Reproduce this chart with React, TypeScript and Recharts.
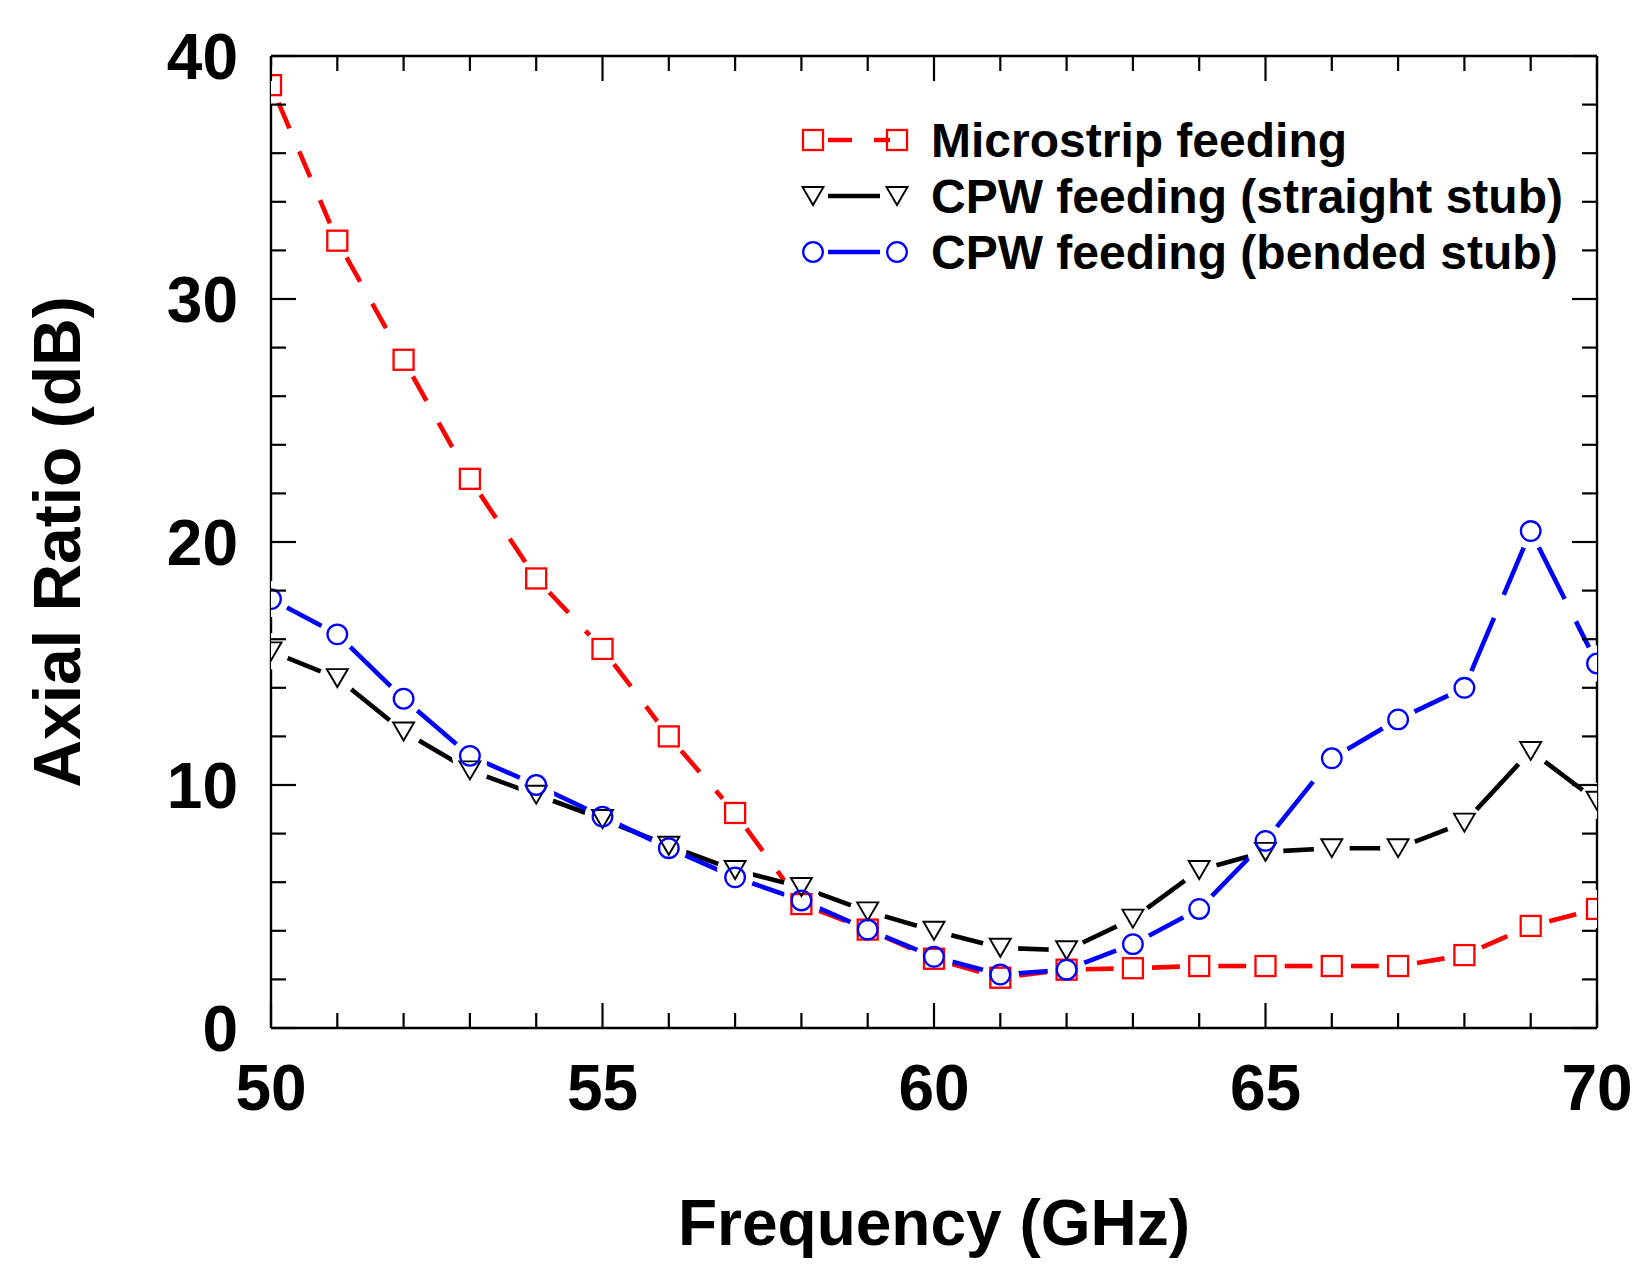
import React from 'react';
import { ComposedChart, Line, XAxis, YAxis, Legend } from 'recharts';

const frequency = [50, 51, 52, 53, 54, 55, 56, 57, 58, 59, 60, 61, 62, 63, 64, 65, 66, 67, 68, 69, 70];
const microstrip = [38.8, 32.4, 27.5, 22.6, 18.5, 15.6, 12.0, 8.85, 5.1, 4.05, 2.85, 2.07, 2.4, 2.46, 2.55, 2.55, 2.55, 2.55, 3.0, 4.2, 4.9];
const cpwStraight = [15.5, 14.4, 12.2, 10.6, 9.6, 8.6, 7.5, 6.5, 5.8, 4.8, 4.0, 3.3, 3.2, 4.5, 6.5, 7.25, 7.4, 7.4, 8.45, 11.4, 9.35];
const cpwBended = [17.65, 16.2, 13.55, 11.2, 10.0, 8.7, 7.4, 6.2, 5.25, 4.05, 2.93, 2.2, 2.4, 3.45, 4.9, 7.7, 11.1, 12.7, 14.0, 20.45, 15.0];
const xTicks = [50, 51, 52, 53, 54, 55, 56, 57, 58, 59, 60, 61, 62, 63, 64, 65, 66, 67, 68, 69, 70];
const yTicks = [0, 2, 4, 6, 8, 10, 12, 14, 16, 18, 20, 22, 24, 26, 28, 30, 32, 34, 36, 38, 40];
const seriesNames = ['Microstrip feeding', 'CPW feeding (straight stub)', 'CPW feeding (bended stub)'];

const FONT = "'Liberation Sans', Arial, Helvetica, sans-serif";

type Pt = { f: number; v: number };
const toPoints = (vals: number[]): Pt[] => frequency.map((f, i) => ({ f, v: vals[i] }));
const toSegments = (vals: number[]): Pt[][] =>
  frequency.slice(0, -1).map((f, i) => [
    { f, v: vals[i] },
    { f: frequency[i + 1], v: vals[i + 1] },
  ]);

type Kind = 'square' | 'triangle' | 'circle';
const series = [
  { name: seriesNames[0], values: microstrip, color: '#ff0000', dash: '28 25', offset: -19, kind: 'square' as Kind, halo: 19 },
  { name: seriesNames[1], values: cpwStraight, color: '#000000', dash: undefined, offset: 0, kind: 'triangle' as Kind, halo: 18 },
  { name: seriesNames[2], values: cpwBended, color: '#0000ff', dash: '58 25', offset: -18, kind: 'circle' as Kind, halo: 18 },
];

const Marker = ({ kind, cx, cy, color }: { kind: Kind; cx: number; cy: number; color: string }) => {
  if (kind === 'square') {
    return <rect x={cx - 10} y={cy - 10} width={20} height={20} fill="none" stroke={color} strokeWidth={2.3} />;
  }
  if (kind === 'triangle') {
    return (
      <polygon
        points={`${cx - 10.5},${cy - 9} ${cx + 10.5},${cy - 9} ${cx},${cy + 9}`}
        fill="none"
        stroke={color}
        strokeWidth={1.9}
      />
    );
  }
  return <circle cx={cx} cy={cy} r={9.8} fill="none" stroke={color} strokeWidth={2.3} />;
};

const BottomTick = (p: any) => {
  const v = p.payload.value as number;
  const major = v % 5 === 0;
  return (
    <g>
      <line x1={p.x} y1={p.y} x2={p.x} y2={p.y - (major ? 25 : 15)} stroke="#000" strokeWidth={2.2} />
      {major && (
        <text x={p.x} y={p.y + 82} textAnchor="middle" fontSize={64} fontWeight="bold" fontFamily={FONT} fill="#000">
          {v}
        </text>
      )}
    </g>
  );
};

const TopTick = (p: any) => {
  const v = p.payload.value as number;
  const major = v % 5 === 0;
  return <line x1={p.x} y1={p.y} x2={p.x} y2={p.y + (major ? 25 : 15)} stroke="#000" strokeWidth={2.2} />;
};

const LeftTick = (p: any) => {
  const v = p.payload.value as number;
  const major = v % 10 === 0;
  return (
    <g>
      <line x1={p.x} y1={p.y} x2={p.x + (major ? 25 : 15)} y2={p.y} stroke="#000" strokeWidth={2.2} />
      {major && (
        <text x={p.x - 33} y={p.y + 23} textAnchor="end" fontSize={64} fontWeight="bold" fontFamily={FONT} fill="#000">
          {v}
        </text>
      )}
    </g>
  );
};

const RightTick = (p: any) => {
  const v = p.payload.value as number;
  const major = v % 10 === 0;
  return <line x1={p.x} y1={p.y} x2={p.x - (major ? 25 : 15)} y2={p.y} stroke="#000" strokeWidth={2.2} />;
};

const XTitle = (props: any) => {
  const vb = props.viewBox || { x: 263, y: 1020, width: 1326 };
  return (
    <text x={vb.x + vb.width / 2} y={vb.y + 217} textAnchor="middle" fontSize={64} fontWeight="bold" fontFamily={FONT} fill="#000">
      Frequency (GHz)
    </text>
  );
};

const YTitle = (props: any) => {
  const vb = props.viewBox || { x: 163, y: 48, width: 100, height: 972 };
  const cx = vb.x + vb.width - 191;
  const cy = vb.y + vb.height / 2;
  return (
    <text
      x={cx}
      y={cy}
      transform={`rotate(-90 ${cx} ${cy})`}
      textAnchor="middle"
      fontSize={66}
      fontWeight="bold"
      fontFamily={FONT}
      fill="#000"
    >
      Axial Ratio (dB)
    </text>
  );
};

const LegendContent = () => (
  <svg width={830} height={180} style={{ display: 'block', overflow: 'visible' }}>
    {series.map((s, i) => {
      const cy = 32 + i * 56;
      return (
        <g key={s.name}>
          <line
            x1={40}
            y1={cy}
            x2={s.kind === 'square' ? 102 : 92}
            y2={cy}
            stroke={s.color}
            strokeWidth={4.5}
            strokeDasharray={s.kind === 'square' ? '24 22' : undefined}
          />
          <Marker kind={s.kind} cx={25} cy={cy} color={s.color} />
          <Marker kind={s.kind} cx={109} cy={cy} color={s.color} />
          <text x={143} y={cy + 17} fontSize={48} fontWeight="bold" fontFamily={FONT} fill="#000">
            {s.name}
          </text>
        </g>
      );
    })}
  </svg>
);

export default function App() {
  return (
    <ComposedChart width={1636} height={1268} margin={{ top: 38, right: 37, bottom: 148, left: 163 }}>
      {series.map((s) =>
        toSegments(s.values).map((seg, i) => (
          <Line
            key={`${s.name}-seg-${i}`}
            data={seg}
            dataKey="v"
            xAxisId="bottom"
            yAxisId="left"
            type="linear"
            stroke={s.color}
            strokeWidth={4.6}
            strokeDasharray={s.dash}
            strokeDashoffset={s.offset}
            dot={false}
            activeDot={false}
            isAnimationActive={false}
            legendType="none"
          />
        ))
      )}
      {series.map((s) => (
        <Line
          key={`${s.name}-halo`}
          data={toPoints(s.values)}
          dataKey="v"
          xAxisId="top"
          yAxisId="right"
          type="linear"
          stroke="none"
          dot={(p: any) => <circle key={`h-${s.kind}-${p.index}`} cx={p.cx} cy={p.cy} r={s.halo} fill="#ffffff" />}
          activeDot={false}
          isAnimationActive={false}
          legendType="none"
        />
      ))}
      {series.map((s) => (
        <Line
          key={`${s.name}-marker`}
          data={toPoints(s.values)}
          dataKey="v"
          xAxisId="top"
          yAxisId="right"
          type="linear"
          stroke="none"
          dot={(p: any) => (
            <g key={`m-${s.kind}-${p.index}`}>
              <Marker kind={s.kind} cx={p.cx} cy={p.cy} color={s.color} />
            </g>
          )}
          activeDot={false}
          isAnimationActive={false}
          legendType="none"
        />
      ))}
      <XAxis
        xAxisId="bottom"
        dataKey="f"
        type="number"
        domain={[50, 70]}
        ticks={xTicks}
        interval={0}
        allowDataOverflow
        orientation="bottom"
        height={100}
        tickSize={0}
        tickMargin={0}
        tickLine={false}
        axisLine={{ stroke: '#000', strokeWidth: 2.4 }}
        tick={(p: any) => <BottomTick {...p} />}
        label={<XTitle />}
      />
      <XAxis
        xAxisId="top"
        dataKey="f"
        type="number"
        domain={[50, 70]}
        ticks={xTicks}
        interval={0}
        allowDataOverflow
        orientation="top"
        height={10}
        tickSize={0}
        tickMargin={0}
        tickLine={false}
        axisLine={{ stroke: '#000', strokeWidth: 2.4 }}
        tick={(p: any) => <TopTick {...p} />}
      />
      <YAxis
        yAxisId="left"
        type="number"
        domain={[0, 40]}
        ticks={yTicks}
        interval={0}
        allowDataOverflow
        orientation="left"
        width={100}
        tickSize={0}
        tickMargin={0}
        tickLine={false}
        axisLine={{ stroke: '#000', strokeWidth: 2.4 }}
        tick={(p: any) => <LeftTick {...p} />}
        label={<YTitle />}
      />
      <YAxis
        yAxisId="right"
        type="number"
        domain={[0, 40]}
        ticks={yTicks}
        interval={0}
        allowDataOverflow
        orientation="right"
        width={10}
        tickSize={0}
        tickMargin={0}
        tickLine={false}
        axisLine={{ stroke: '#000', strokeWidth: 2.4 }}
        tick={(p: any) => <RightTick {...p} />}
      />
      <Legend
        layout="horizontal"
        verticalAlign="middle"
        align="center"
        content={() => <LegendContent />}
        wrapperStyle={{ left: 780, top: 100, width: 830, height: 180 }}
      />
    </ComposedChart>
  );
}
